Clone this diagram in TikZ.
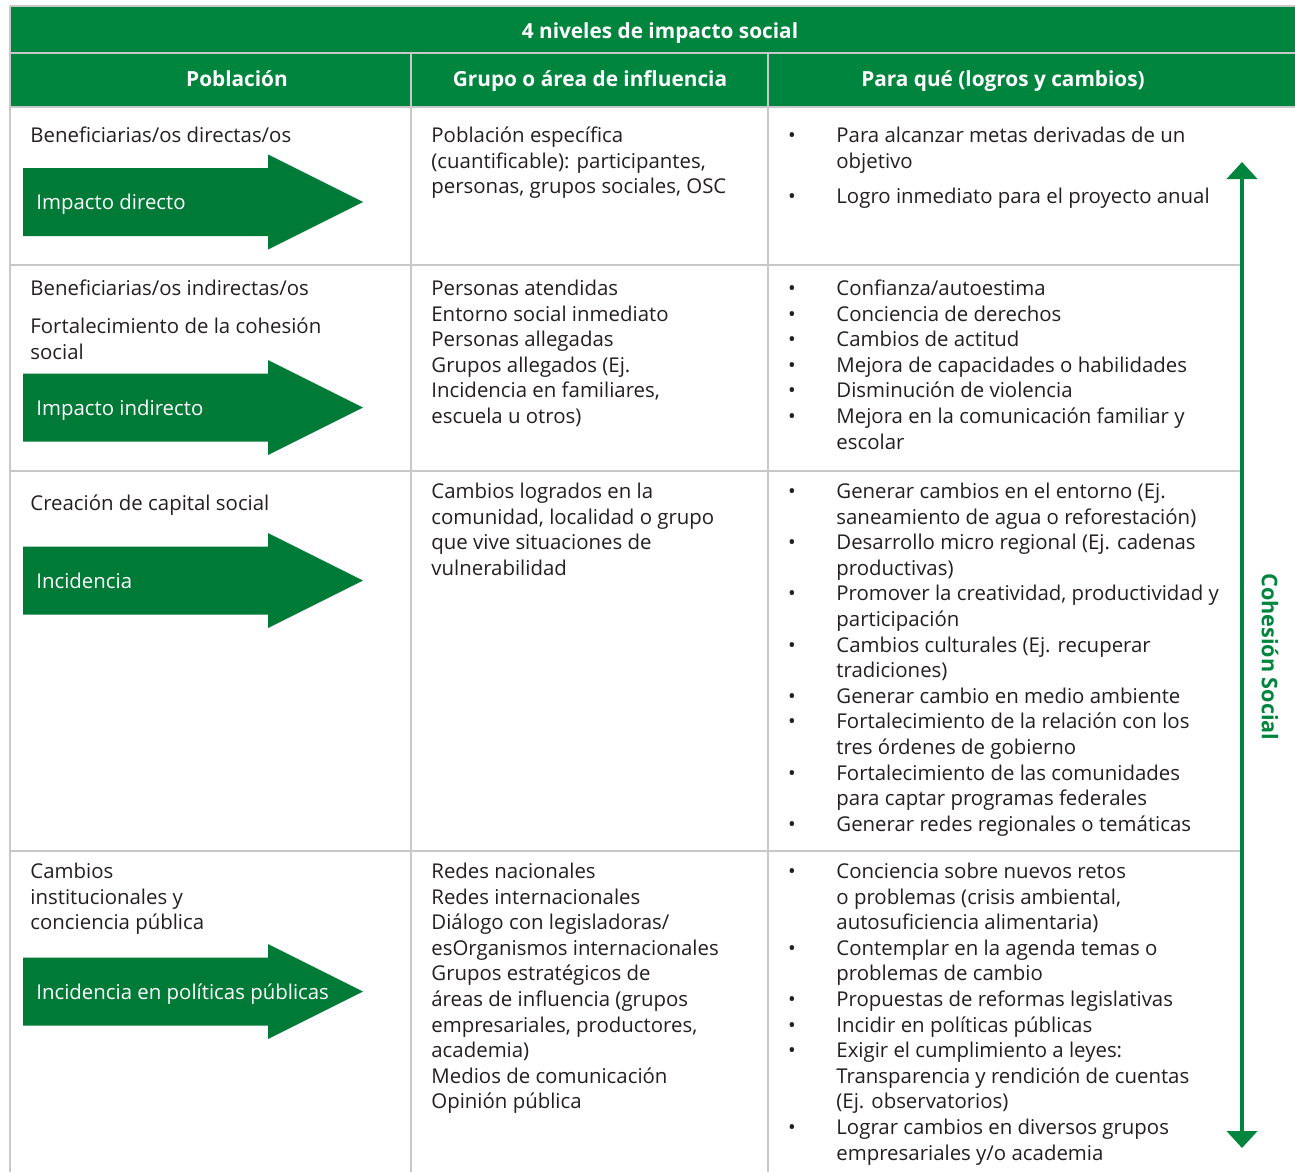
\documentclass[tikz,border=0pt]{standalone}
\usepackage{fontspec}
\setmainfont{Open Sans}
\usetikzlibrary{arrows.meta}

\definecolor{verde}{RGB}{0,133,62}
\definecolor{verdeosc}{RGB}{0,122,55}
\definecolor{linea}{RGB}{200,200,200}
\definecolor{texto}{RGB}{35,31,32}
\newcommand\fs{\fontsize{10.2pt}{12.8pt}\selectfont}
\newcommand\fsb{\fontsize{10.4pt}{12.8pt}\selectfont\bfseries}
% lines of a cell, first line on the baseline
\newcommand\lineas[1]{\begin{tabular}[t]{@{}l@{}}#1\end{tabular}}

\tikzset{
  celda/.style={anchor=base west, inner sep=0pt, yshift=-1.5pt, font=\fs, text=texto},
  titulo/.style={anchor=base, inner sep=0pt, yshift=-1.5pt, font=\fsb, text=white},
  etiq/.style={anchor=base west, inner sep=0pt, yshift=-1pt, font=\fs, text=white},
  vin/.style={anchor=base, inner sep=0pt, yshift=-1.5pt, font=\fs, text=texto},
  rejilla/.style={draw=linea, line width=1pt},
}

% big arrow of the first column: name, centre y, label
\newcommand\flecha[3]{%
  \fill[verdeosc] (23,#2-34) -- (268,#2-34) -- (268,#2-47.5) -- (363,#2)
    -- (268,#2+47.5) -- (268,#2+34) -- (23,#2+34) -- cycle;
  \node[etiq] (#1) at (36,#2+5.5) {#3};}
% bullets of the third column: name, first line y, lines with a bullet
\newcommand\vinetas[3]{%
  \foreach \i in {#3} \node[vin] (#1-\i) at (792,#2+5.5+25.6*\i-25.6) {\textbullet};}

\begin{document}
\begin{tikzpicture}[x=0.5pt,y=-0.5pt]
\useasboundingbox (0,0) rectangle (1295,1172);

% header
\fill[verde] (10,6) rectangle (1295,107);
\draw[rejilla] (10,6) -- (1295,6);
\draw[rejilla] (10,53) -- (1295,53);
\draw[rejilla] (10,107) -- (1295,107);
\draw[rejilla] (10,6) -- (10,1172);
\draw[rejilla] (411,53) -- (411,1172);
\draw[rejilla] (768,53) -- (768,1172);
\foreach \y in {265,471,851} \draw[rejilla] (10,\y) -- (1240,\y);

\node[titulo] (tit) at (660,35.5) {4 niveles de impacto social};
\node[titulo] (pob) at (237,83.5) {Población};
\node[titulo] (gru) at (590,83.5) {Grupo o área de influencia};
\node[titulo] (para) at (1003,83.5) {Para qué (logros y cambios)};

% fila 1
\node[celda] (f1a) at (30,139.5) {Beneficiarias/os directas/os};
\flecha{fl1}{202}{Impacto directo}
\node[celda] (f1b) at (431,139.5) {\lineas{Población específica\\(cuantificable): participantes,\\personas, grupos sociales, OSC}};
\node[celda] (f1c) at (836,139.5) {\lineas{Para alcanzar metas derivadas de un\\objetivo}};
\node[celda] (f1d) at (836,200.5) {Logro inmediato para el proyecto anual};
\vinetas{v1}{134}{1}
\vinetas{v1b}{195}{1}

% fila 2
\node[celda] (f2a) at (30,292.5) {Beneficiarias/os indirectas/os};
\node[celda] (f2b) at (30,330.5) {\lineas{Fortalecimiento de la cohesión\\social}};
\flecha{fl2}{407.5}{Impacto indirecto}
\node[celda] (f2c) at (431,292.5) {\lineas{Personas atendidas\\Entorno social inmediato\\Personas allegadas\\Grupos allegados (Ej.\\Incidencia en familiares,\\escuela u otros)}};
\node[celda] (f2d) at (836,292.5) {\lineas{Confianza/autoestima\\Conciencia de derechos\\Cambios de actitud\\Mejora de capacidades o habilidades\\Disminución de violencia\\Mejora en la comunicación familiar y\\escolar}};
\vinetas{v2}{287}{1,...,6}

% fila 3
\node[celda] (f3a) at (30,507.5) {Creación de capital social};
\flecha{fl3}{580.5}{Incidencia}
\node[celda] (f3b) at (431,495.5) {\lineas{Cambios logrados en la\\comunidad, localidad o grupo\\que vive situaciones de\\vulnerabilidad}};
\node[celda] (f3c) at (836,495.5) {\lineas{Generar cambios en el entorno (Ej.\\saneamiento de agua o reforestación)\\Desarrollo micro regional (Ej. cadenas\\productivas)\\Promover la creatividad, productividad y\\participación\\Cambios culturales (Ej. recuperar\\tradiciones)\\Generar cambio en medio ambiente\\Fortalecimiento de la relación con los\\tres órdenes de gobierno\\Fortalecimiento de las comunidades\\para captar programas federales\\Generar redes regionales o temáticas}};
\vinetas{v3}{490}{1,3,5,7,9,10,12,14}

% fila 4
\node[celda] (f4a) at (30,875.5) {\lineas{Cambios\\institucionales y\\conciencia pública}};
\flecha{fl4}{991.5}{Incidencia en políticas públicas}
\node[celda] (f4b) at (431,875.5) {\lineas{Redes nacionales\\Redes internacionales\\Diálogo con legisladoras/\\esOrganismos internacionales\\Grupos estratégicos de\\áreas de influencia (grupos\\empresariales, productores,\\academia)\\Medios de comunicación\\Opinión pública}};
\node[celda] (f4c) at (836,875.5) {\lineas{Conciencia sobre nuevos retos\\o problemas (crisis ambiental,\\autosuficiencia alimentaria)\\Contemplar en la agenda temas o\\problemas de cambio\\Propuestas de reformas legislativas\\Incidir en políticas públicas\\Exigir el cumplimiento a leyes:\\Transparencia y rendición de cuentas\\(Ej. observatorios)\\Lograr cambios en diversos grupos\\empresariales y/o academia}};
\vinetas{v4}{870}{1,4,6,7,8,11}

% cohesion social
\coordinate (cs-top) at (1242,162);
\coordinate (cs-bot) at (1242,1148);
\draw[verde, line width=2.2pt, {Triangle[width=15pt,length=8.5pt]}-{Triangle[width=15pt,length=8.5pt]}] (cs-top) -- (cs-bot);
\node[inner sep=0pt, font=\fontsize{10.8pt}{13pt}\selectfont\bfseries, text=verde, rotate=-90] (cs) at (1270,657) {Cohesión Social};
\end{tikzpicture}
\end{document}
